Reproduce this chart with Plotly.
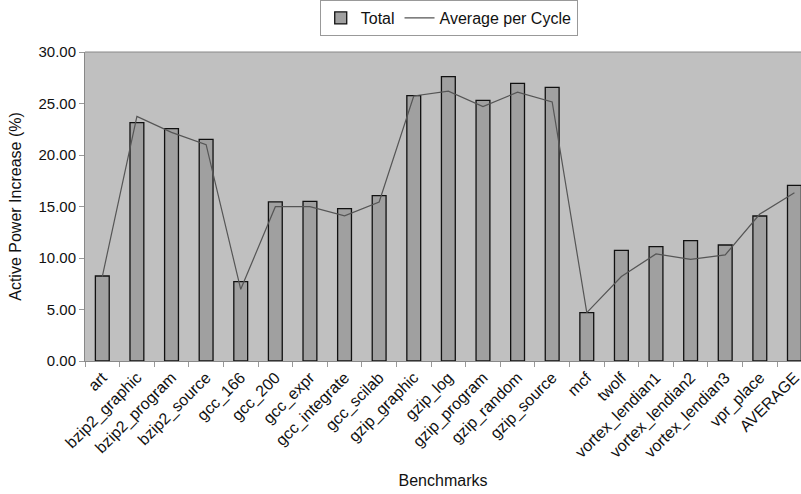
import plotly.graph_objects as go

benchmarks = ["art", "bzip2_graphic", "bzip2_program", "bzip2_source", "gcc_166", "gcc_200",
              "gcc_expr", "gcc_integrate", "gcc_scilab", "gzip_graphic", "gzip_log", "gzip_program",
              "gzip_random", "gzip_source", "mcf", "twolf", "vortex_lendian1", "vortex_lendian2",
              "vortex_lendian3", "vpr_place", "AVERAGE"]
total = [8.25, 23.14, 22.56, 21.52, 7.70, 15.44, 15.50, 14.79, 16.05, 25.76, 27.60, 25.30,
         26.96, 26.57, 4.69, 10.74, 11.10, 11.68, 11.26, 14.08, 17.06]
avg_per_cycle = [8.2, 23.75, 22.2, 21.0, 6.96, 14.98, 14.98, 14.1, 15.44, 25.73, 26.2, 24.7,
                 26.1, 25.15, 4.7, 8.2, 10.4, 9.87, 10.3, 14.27, 16.34]
y_ticks = [0, 5, 10, 15, 20, 25, 30]

fig = go.Figure()
fig.add_trace(go.Bar(x=benchmarks, y=total, name="Total", width=0.4,
                     marker=dict(color="#a0a0a0", line=dict(color="#111111", width=1.3))))
fig.add_trace(go.Scatter(x=benchmarks, y=avg_per_cycle, name="Average per Cycle", mode="lines",
                         line=dict(color="#555555", width=1.2)))

font = "Liberation Sans, Arial, sans-serif"
fig.update_layout(
    width=801, height=494,
    margin=dict(l=85, r=0, t=52, b=133),
    paper_bgcolor="white", plot_bgcolor="#c0c0c0",
    font=dict(family=font, size=15, color="#111111"),
    showlegend=True,
    legend=dict(orientation="h", x=0.508, xanchor="center", y=1.11, yanchor="middle",
                bordercolor="#999999", borderwidth=1, bgcolor="white",
                font=dict(size=16), itemwidth=30, tracegroupgap=0),
    bargap=0.6,
)
fig.update_xaxes(
    range=[-0.5, 20.19], tickangle=-45, ticks="outside", tickson="boundaries", ticklen=5,
    tickcolor="#999999", showline=True, linecolor="#888888", linewidth=1, showgrid=False,
    tickfont=dict(size=16), title=dict(text="Benchmarks", font=dict(size=16), standoff=14),
)
fig.update_yaxes(
    range=[0, 30], tickvals=y_ticks, tickformat=".2f", ticks="outside", ticklen=5,
    tickcolor="#999999", showline=True, linecolor="#888888", linewidth=1, showgrid=False,
    zeroline=False, tickfont=dict(size=15),
    title=dict(text="Active Power Increase (%)", font=dict(size=16), standoff=12),
)
fig.add_shape(type="line", xref="paper", yref="paper", x0=0, x1=1, y0=1, y1=1,
              line=dict(color="#888888", width=1))
fig.write_html("out.html")
